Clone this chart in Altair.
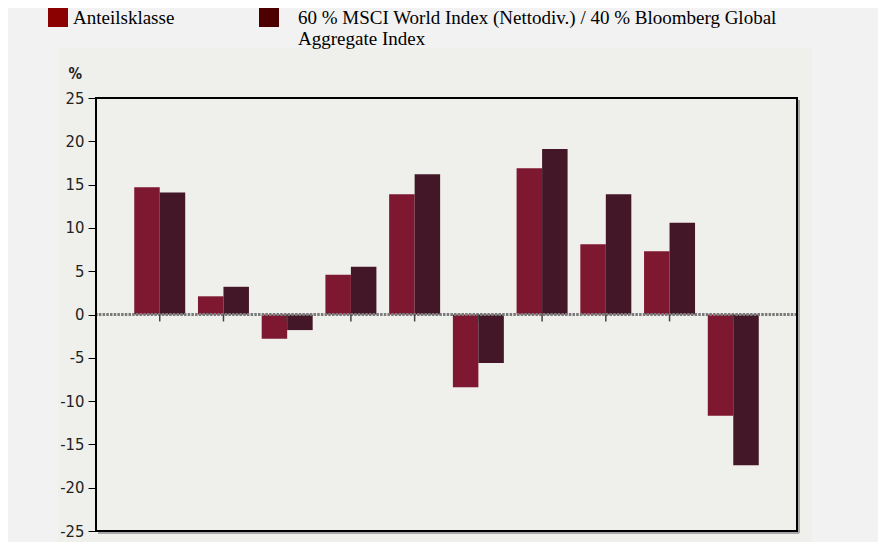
import altair as alt
import pandas as pd

# ---- data ----
years = ["2013", "2014", "2015", "2016", "2017", "2018", "2019", "2020", "2021", "2022"]
anteil = [14.7, 2.1, -2.8, 4.6, 13.9, -8.4, 16.9, 8.1, 7.3, -11.7]
bench = [14.1, 3.2, -1.8, 5.5, 16.2, -5.6, 19.1, 13.9, 10.6, -17.4]
series_names = [
    "Anteilsklasse",
    "60 % MSCI World Index (Nettodiv.) / 40 % Bloomberg Global Aggregate Index",
]
bar_colors = ["#7e1730", "#431628"]
legend_colors = ["#8b0000", "#4d0000"]
y_ticks = [-25, -20, -15, -10, -5, 0, 5, 10, 15, 20, 25]

rows = []
for i, yr in enumerate(years):
    rows.append({"year": yr, "series": series_names[0], "value": anteil[i]})
    rows.append({"year": yr, "series": series_names[1], "value": bench[i]})
df = pd.DataFrame(rows)
df_years = pd.DataFrame({"year": years})
one = pd.DataFrame({"k": [0]})

W, H = 701, 433
SANS_N = "Liberation Sans Narrow, DejaVu Sans Condensed, sans-serif"

x_enc = alt.X("year:O", axis=None, sort=years,
              scale=alt.Scale(paddingInner=0.2, paddingOuter=0.6))
y_scale = alt.Scale(domain=[-25, 25], nice=False)

panel = alt.Chart(one).mark_rect(fill="#efefeb", stroke=None).encode(
    x=alt.value(-38), x2=alt.value(W + 15), y=alt.value(-50), y2=alt.value(H + 17)
)

bars = alt.Chart(df).mark_bar().encode(
    x=x_enc,
    xOffset=alt.XOffset("series:N", sort=series_names,
                        scale=alt.Scale(domain=series_names, paddingInner=0, paddingOuter=0)),
    y=alt.Y("value:Q", scale=y_scale,
            axis=alt.Axis(values=y_ticks, labelExpr="'' + datum.value", tickSize=8,
                          tickColor="#000", tickWidth=1, domain=False, grid=False,
                          labelFont=SANS_N, labelFontSize=16.5, labelColor="#222",
                          labelPadding=4, title="%", titleAngle=0, titleAlign="left",
                          titleBaseline="alphabetic", titleX=-28, titleY=-20,
                          titleFont=SANS_N, titleFontSize=15, titleFontWeight="bold",
                          titleColor="#222", zindex=2)),
    fill=alt.Fill("series:N", scale=alt.Scale(domain=series_names, range=bar_colors), legend=None),
)

zero_line = alt.Chart(one).mark_rule(color="#7a7a7a", strokeWidth=3, strokeDash=[2.5, 1.2]).encode(
    y=alt.datum(0)
)

ticks = alt.Chart(df_years).mark_rule(color="#444", strokeWidth=1.5).encode(
    x=x_enc, y=alt.datum(0), y2=alt.datum(-0.8)
)

shadow_b = alt.Chart(one).mark_rule(color="#a8a8a8", strokeWidth=2).encode(
    x=alt.value(2), x2=alt.value(W + 2), y=alt.value(H + 2)
)
shadow_r = alt.Chart(one).mark_rule(color="#a8a8a8", strokeWidth=2).encode(
    x=alt.value(W + 2), y=alt.value(2), y2=alt.value(H + 2)
)
frame = alt.Chart(one).mark_rect(fillOpacity=0, stroke="#000", strokeWidth=2).encode(
    x=alt.value(0), x2=alt.value(W), y=alt.value(0), y2=alt.value(H)
)

lead = "\u2800"
legend_layer = alt.Chart(df).mark_square(filled=True, opacity=0).encode(
    color=alt.Color(
        "series:N",
        scale=alt.Scale(domain=series_names, range=legend_colors),
        legend=alt.Legend(
            title=None, orient="none", legendX=-48, legendY=-84, direction="horizontal",
            columns=2, columnPadding=84, symbolType="M-1,-1.7H1V0.3H-1Z", symbolSize=400,
            symbolOpacity=1, symbolStrokeWidth=0, labelFont="Liberation Serif",
            labelFontSize=19, labelColor="#000", labelBaseline="alphabetic", labelOffset=5,
            labelLimit=800, padding=0, zindex=1,
            labelExpr=("datum.label == 'Anteilsklasse' ? ['Anteilsklasse', '\u00a0'] : ['" + lead +
                       "60 % MSCI World Index (Nettodiv.) / 40 % Bloomberg Global', '" + lead +
                       "Aggregate Index']"),
        ),
    )
)

chart = alt.layer(panel, bars, zero_line, ticks, shadow_b, shadow_r, frame, legend_layer).resolve_scale(
    color="independent"
).properties(
    width=W, height=H,
    autosize=alt.AutoSizeParams(type="none"),
    padding={"left": 88, "top": 90, "right": 81, "bottom": 11},
    background="#f2f2f2",
).configure_view(stroke=None, fill="#efefeb")

chart.save("out.html", embed_options={"renderer": "svg", "actions": False})
